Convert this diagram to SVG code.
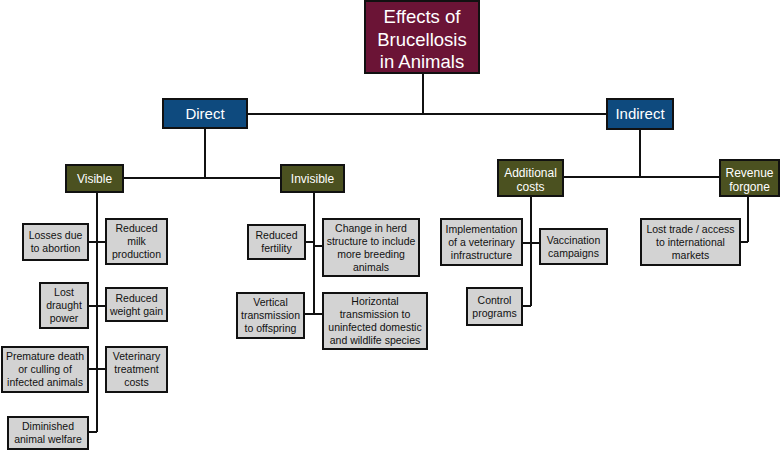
<svg xmlns="http://www.w3.org/2000/svg" width="780" height="450" viewBox="0 0 780 450">
<style>
text{font-family:"Liberation Sans",Arial,sans-serif;text-anchor:middle}
rect{stroke:#111;stroke-width:2}
.t rect{fill:#6b1436}
.t text{fill:#fff;font-size:18.5px}
.b rect{fill:#0e4a7e}
.b text{fill:#fff;font-size:15px}
.o rect{fill:#4b5120}
.o text{fill:#fff;font-size:12px}
.g rect{fill:#d3d3d3}
.g text{fill:#111;font-size:10.5px}
#connectors path{stroke:#111;stroke-width:2;fill:none}
</style>
<rect x="0" y="0" width="780" height="450" fill="#fff" style="stroke:none"/>
<g id="connectors">
<path d="M423 73V114M247 114H607"/>
<path d="M205 128V178M123 178H281"/>
<path d="M640 129V177M563 177H720"/>
<path d="M97 192V432M88 242H106M88 306H106M88 369H106M88 432H97"/>
<path d="M314 192V314M305 242H314M314 246H323M304 314H323"/>
<path d="M531 196V306M522 243H540M522 306H531"/>
<path d="M748 196V242M740 242H748"/>
</g>
<g id="title" class="t"><rect x="365" y="1" width="114" height="72"/><text x="422"><tspan x="422" y="23">Effects of</tspan><tspan x="422" y="45.5">Brucellosis</tspan><tspan x="422" y="68">in Animals</tspan></text></g>
<g id="direct" class="b"><rect x="163" y="99" width="84" height="29"/><text x="205" y="119">Direct</text></g>
<g id="indirect" class="b"><rect x="607" y="99" width="66" height="30"/><text x="640" y="119">Indirect</text></g>
<g id="visible" class="o"><rect x="66" y="165" width="57" height="27"/><text x="94.5" y="183">Visible</text></g>
<g id="invisible" class="o"><rect x="281" y="165" width="63" height="27"/><text x="312.5" y="183">Invisible</text></g>
<g id="additional" class="o"><rect x="498" y="160" width="65" height="36"/><text><tspan x="530.5" y="177">Additional</tspan><tspan x="530.5" y="191">costs</tspan></text></g>
<g id="revenue" class="o"><rect x="720" y="160" width="59" height="36"/><text><tspan x="749.5" y="177">Revenue</tspan><tspan x="749.5" y="191">forgone</tspan></text></g>
<g id="losses" class="g"><rect x="23" y="224" width="65" height="36"/><text><tspan x="55.5" y="239.3">Losses due</tspan><tspan x="55.5" y="252.3">to abortion</tspan></text></g>
<g id="milk" class="g"><rect x="106" y="219" width="61" height="45"/><text><tspan x="136.5" y="232.3">Reduced</tspan><tspan x="136.5" y="245.3">milk</tspan><tspan x="136.5" y="258.3">production</tspan></text></g>
<g id="draught" class="g"><rect x="40" y="283" width="48" height="45"/><text><tspan x="64" y="296.3">Lost</tspan><tspan x="64" y="309.3">draught</tspan><tspan x="64" y="322.3">power</tspan></text></g>
<g id="weight" class="g"><rect x="106" y="288" width="61" height="33"/><text><tspan x="136.5" y="301.8">Reduced</tspan><tspan x="136.5" y="314.8">weight gain</tspan></text></g>
<g id="premature" class="g"><rect x="2" y="347" width="86" height="45"/><text><tspan x="45" y="360.3">Premature death</tspan><tspan x="45" y="373.3">or culling of</tspan><tspan x="45" y="386.3">infected animals</tspan></text></g>
<g id="veterinary" class="g"><rect x="106" y="347" width="61" height="45"/><text><tspan x="136.5" y="360.3">Veterinary</tspan><tspan x="136.5" y="373.3">treatment</tspan><tspan x="136.5" y="386.3">costs</tspan></text></g>
<g id="welfare" class="g"><rect x="8" y="417" width="80" height="32"/><text><tspan x="48" y="430.3">Diminished</tspan><tspan x="48" y="443.3">animal welfare</tspan></text></g>
<g id="fertility" class="g"><rect x="248" y="225" width="57" height="34"/><text><tspan x="276.5" y="239.3">Reduced</tspan><tspan x="276.5" y="252.3">fertility</tspan></text></g>
<g id="herd" class="g"><rect x="323" y="219" width="96" height="57"/><text><tspan x="371" y="231.8">Change in herd</tspan><tspan x="371" y="244.8">structure to include</tspan><tspan x="371" y="257.8">more breeding</tspan><tspan x="371" y="270.8">animals</tspan></text></g>
<g id="vertical" class="g"><rect x="237" y="293" width="67" height="45"/><text><tspan x="270.5" y="306.3">Vertical</tspan><tspan x="270.5" y="319.3">transmission</tspan><tspan x="270.5" y="332.3">to offspring</tspan></text></g>
<g id="horizontal" class="g"><rect x="323" y="293" width="104" height="56"/><text><tspan x="375" y="305.3">Horizontal</tspan><tspan x="375" y="318.3">transmission to</tspan><tspan x="375" y="331.3">uninfected domestic</tspan><tspan x="375" y="344.3">and wildlife species</tspan></text></g>
<g id="infrastructure" class="g"><rect x="441" y="219" width="81" height="46"/><text><tspan x="481.5" y="232.8">Implementation</tspan><tspan x="481.5" y="245.8">of a veterinary</tspan><tspan x="481.5" y="258.8">infrastructure</tspan></text></g>
<g id="vaccination" class="g"><rect x="540" y="229" width="67" height="35"/><text><tspan x="573.5" y="243.8">Vaccination</tspan><tspan x="573.5" y="256.8">campaigns</tspan></text></g>
<g id="control" class="g"><rect x="467" y="288" width="55" height="37"/><text><tspan x="494.5" y="303.8">Control</tspan><tspan x="494.5" y="316.8">programs</tspan></text></g>
<g id="trade" class="g"><rect x="641" y="219" width="99" height="46"/><text><tspan x="690.5" y="232.8">Lost trade / access</tspan><tspan x="690.5" y="245.8">to international</tspan><tspan x="690.5" y="258.8">markets</tspan></text></g>
</svg>
